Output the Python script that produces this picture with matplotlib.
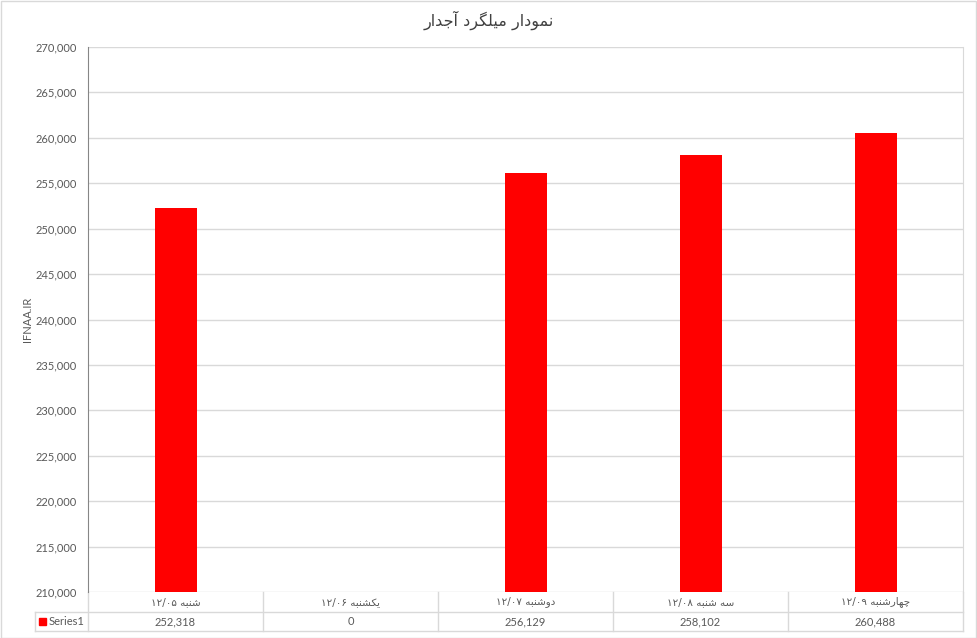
import matplotlib
matplotlib.use("Agg")
import matplotlib.pyplot as plt
from matplotlib.transforms import blended_transform_factory
from matplotlib.patches import Rectangle
from matplotlib.lines import Line2D

# ---------------- data ----------------
title = "نمودار میلگرد آجدار"
days = ["شنبه", "یکشنبه", "دوشنبه", "سه شنبه", "چهارشنبه"]
dates = ["۱۲/۰۵", "۱۲/۰۶", "۱۲/۰۷", "۱۲/۰۸", "۱۲/۰۹"]
values = [252318, 0, 256129, 258102, 260488]
series_name = "Series1"
y_label = "IFNAA.IR"
y_min, y_max, y_step = 210000, 270000, 5000

# ---------------- minimal Arabic/Persian shaping ----------------
# char: (isolated, final, initial, medial); None => does not join to next letter
FORMS = {
    "ا": ("\uFE8D", "\uFE8E", None, None),
    "آ": ("\uFE81", "\uFE82", None, None),
    "ب": ("\uFE8F", "\uFE90", "\uFE91", "\uFE92"),
    "ج": ("\uFE9D", "\uFE9E", "\uFE9F", "\uFEA0"),
    "چ": ("\uFB7A", "\uFB7B", "\uFB7C", "\uFB7D"),
    "د": ("\uFEA9", "\uFEAA", None, None),
    "ر": ("\uFEAD", "\uFEAE", None, None),
    "س": ("\uFEB1", "\uFEB2", "\uFEB3", "\uFEB4"),
    "ش": ("\uFEB5", "\uFEB6", "\uFEB7", "\uFEB8"),
    "ل": ("\uFEDD", "\uFEDE", "\uFEDF", "\uFEE0"),
    "م": ("\uFEE1", "\uFEE2", "\uFEE3", "\uFEE4"),
    "ن": ("\uFEE5", "\uFEE6", "\uFEE7", "\uFEE8"),
    "ه": ("\uFEE9", "\uFEEA", "\uFEEB", "\uFEEC"),
    "و": ("\uFEED", "\uFEEE", None, None),
    "ی": ("\uFBFC", "\uFBFD", "\uFBFE", "\uFBFF"),
    "ک": ("\uFB8E", "\uFB8F", "\uFB90", "\uFB91"),
    "گ": ("\uFB92", "\uFB93", "\uFB94", "\uFB95"),
}


def shape_word(s):
    out = []
    for i, c in enumerate(s):
        if c not in FORMS:
            out.append(c)
            continue
        prev = s[i - 1] if i > 0 else None
        nxt = s[i + 1] if i + 1 < len(s) else None
        join_prev = prev in FORMS and FORMS[prev][2] is not None
        join_next = nxt in FORMS and FORMS[c][2] is not None
        iso, fin, ini, med = FORMS[c]
        if join_prev and join_next:
            out.append(med)
        elif join_prev:
            out.append(fin)
        elif join_next:
            out.append(ini)
        else:
            out.append(iso)
    return "".join(out)


def rtl(s):
    return shape_word(s)[::-1]


plt.rcParams["font.family"] = ["Lato", "DejaVu Sans"]
TXT = "#595959"
GRID = "#D9D9D9"
AX = "#868686"

W, H = 977, 638
fig = plt.figure(figsize=(W / 100, H / 100), dpi=100)

L, R, T, B = 88, 963, 47, 592
ax = fig.add_axes([L / W, 1 - B / H, (R - L) / W, (B - T) / H])

x = list(range(len(values)))
ax.bar(x, values, width=0.24, color="#FF0000", zorder=3)
ax.set_xlim(-0.5, len(values) - 0.5)
ax.set_ylim(y_min, y_max)
ticks = list(range(y_min, y_max + 1, y_step))
ax.set_yticks(ticks)
ax.set_yticklabels([f"{t:,}" for t in ticks], fontsize=8, color=TXT)
ax.tick_params(axis="y", length=0, pad=8)
ax.set_xticks([])
ax.grid(axis="y", color=GRID, linewidth=1, zorder=0)
for s in ["top", "bottom"]:
    ax.spines[s].set_visible(False)
ax.spines["left"].set_color(AX)
ax.spines["right"].set_color(GRID)

fy = lambda p: 1 - p / H
fx = lambda p: p / W

# y label
fig.text(fx(27), fy((T + B) / 2), y_label, rotation=90, ha="center",
         va="center", fontsize=8, color=TXT)

# title
fig.text(0.5, fy(20), rtl(title), ha="center", va="center", fontsize=11.5,
         color="#404040", family="DejaVu Sans")

# data table
tr = blended_transform_factory(ax.transData, fig.transFigure)
r1, r2, r3 = 592, 612, 631
fig.add_artist(Line2D([fx(35), fx(R)], [fy(r2), fy(r2)], color=GRID, lw=1))
fig.add_artist(Line2D([fx(35), fx(R)], [fy(r3), fy(r3)], color=GRID, lw=1))
fig.add_artist(Line2D([fx(35), fx(35)], [fy(r2), fy(r3)], color=GRID, lw=1))
for i in range(len(values) + 1):
    ax.plot([i - 0.5, i - 0.5], [fy(r1), fy(r3)], transform=tr, color=GRID,
            lw=1, clip_on=False)
for i, (d, dt, v) in enumerate(zip(days, dates, values)):
    ax.text(i, fy((r1 + r2) / 2), dt + " " + rtl(d), transform=tr,
            ha="center", va="center", fontsize=7.5, color=TXT,
            family="DejaVu Sans")
    ax.text(i, fy((r2 + r3) / 2), f"{v:,}", transform=tr, ha="center",
            va="center", fontsize=8, color=TXT)
# legend key
fig.add_artist(Rectangle((fx(39), fy(625)), 7 / W, 7 / H, color="#FF0000"))
fig.text(fx(49), fy((r2 + r3) / 2), series_name, ha="left", va="center",
         fontsize=8, color=TXT)

# chart border
fig.add_artist(Rectangle((0.5 / W, 0.5 / H), (W - 1.5) / W, (H - 1.5) / H,
                         fill=False, edgecolor=GRID, lw=1))

fig.savefig("out.png", dpi=100)
